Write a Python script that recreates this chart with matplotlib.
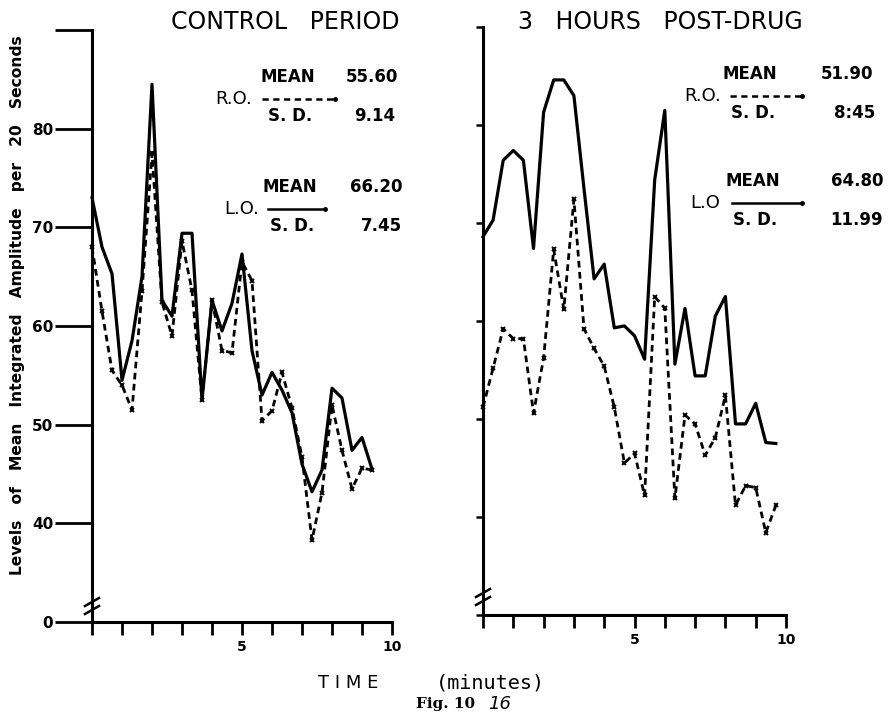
# Fig. 16 - EEG integrated amplitude, control vs 3 hours post-drug
from matplotlib import pyplot as plt
from matplotlib.lines import Line2D
import numpy as np

# values per 20 second epoch
ctrl_LO = [73, 68, 65.3, 54.5, 58.5, 65, 84.5, 62.6, 61, 69.4,
           69.4, 52.5, 62.6, 59.5, 62.3, 67.3, 57.5, 53, 55.3, 53.5,
           51.2, 46, 43.2, 45.4, 53.7, 52.7, 47.4, 48.7, 45.5]
ctrl_RO = [68, 61.5, 55.5, 54, 51.5, 63.5, 77.5, 62.4, 59, 68.6,
           63.6, 52.5, 62.6, 57.5, 57.3, 66.5, 64.6, 50.4, 51.4, 55.3,
           51.7, 46.7, 38.3, 43.1, 52, 47.4, 43.5, 45.6, 45.4]
post_LO = [68.6, 70.3, 76.4, 77.4, 76.4, 67.4, 81.3, 84.6, 84.6, 83,
           73.5, 64.3, 65.8, 59.3, 59.5, 58.5, 56.1, 74.4, 81.5, 55.6,
           61.3, 54.4, 54.4, 60.5, 62.5, 49.5, 49.5, 51.6, 47.6, 47.5]
post_RO = [51.2, 55.2, 59.2, 58.2, 58.2, 50.6, 56.2, 67.3, 61.2, 72.4,
           59.2, 57.2, 55.4, 51.2, 45.5, 46.5, 42.2, 62.5, 61.3, 41.9,
           50.4, 49.5, 46.3, 48.1, 52.4, 41.2, 43.2, 43, 38.4, 41.2]

ctrl_t = np.arange(len(ctrl_LO)) * 20 / 60.0
post_t = np.arange(len(post_LO)) * 20 / 60.0

y_ticks = [30, 40, 50, 60, 70, 80, 90]
y_labels = ['0', '40', '50', '60', '70', '80', '']
x_ticks = list(range(11))
x_labels = ['', '', '', '', '', '5', '', '', '', '', '10']

W, H = 888, 719
fig = plt.figure(figsize=(W / 100, H / 100), dpi=100)
fig.patch.set_facecolor('white')

def px(x, y):
    return x / W, 1 - y / H

lw = 2.3
dash = (2.4, 1.6)

# control period
ax1 = fig.add_axes([92 / W, 1 - 622 / H, 300 / W, 592 / H])
ax1.plot(ctrl_t, ctrl_LO, color='black', lw=lw, clip_on=False)
ax1.plot(ctrl_t, ctrl_RO, color='black', lw=lw - 0.3, dashes=dash,
         marker='x', ms=3.5, mew=1.4, clip_on=False)
ax1.set_yticks(y_ticks)
ax1.set_yticklabels(y_labels, fontsize=11, fontweight='bold')
ax1.tick_params(axis='y', length=27, width=2, pad=1)

# 3 hours post-drug
ax2 = fig.add_axes([483 / W, 1 - 615 / H, 303 / W, 588 / H])
ax2.plot(post_t, post_LO, color='black', lw=lw, clip_on=False)
ax2.plot(post_t, post_RO, color='black', lw=lw - 0.3, dashes=dash,
         marker='x', ms=3.5, mew=1.4, clip_on=False)
ax2.set_yticks(y_ticks)
ax2.set_yticklabels([])
ax2.tick_params(axis='y', length=5, width=1.8)

for ax in [ax1, ax2]:
    ax.set_xlim(0, 10)
    ax.set_ylim(30, 90)
    ax.set_facecolor('none')
    ax.spines['top'].set_visible(False)
    ax.spines['right'].set_visible(False)
    ax.spines['left'].set_linewidth(2.2)
    ax.spines['bottom'].set_linewidth(2.2)
    ax.set_xticks(x_ticks)
    ax.set_xticklabels(x_labels, fontsize=10, fontweight='bold')
    ax.tick_params(axis='x', length=9, width=2, pad=4)

# axis breaks
for bx, by in [(92, 606), (483, 597)]:
    for dy in [-4, 4]:
        x0, y0 = px(bx - 7, by + dy + 4)
        x1, y1 = px(bx + 7, by + dy - 4)
        fig.add_artist(Line2D([x0, x1], [y0, y1], color='black', lw=1.8))

# titles
fig.text(*px(285, 22), 'CONTROL   PERIOD', fontsize=17, ha='center', va='center')
fig.text(*px(660, 22), '3   HOURS   POST-DRUG', fontsize=17, ha='center', va='center')

fig.text(*px(18, 305), 'Levels   of   Mean   Integrated   Amplitude   per   20   Seconds',
         rotation=90, fontsize=11.2, fontweight='bold', ha='center', va='center')

# mean / s.d. keys
def key(x_lab, y_mid, lab, x0, x1, mean_x, mean_r, mean_val, sd_r, sd_val, dashed):
    kw = dict(fontsize=12, fontweight='bold', va='center')
    fig.text(*px(x_lab, y_mid), lab, fontsize=13, va='center')
    fig.text(*px(mean_x, y_mid - 22), 'MEAN', **kw)
    fig.text(*px(mean_x + 8, y_mid + 17), 'S. D.', **kw)
    fig.text(*px(mean_r, y_mid - 22), mean_val, ha='right', **kw)
    fig.text(*px(sd_r, y_mid + 17), sd_val, ha='right', **kw)
    a, b = px(x0, y_mid), px(x1, y_mid)
    ln = Line2D([a[0], b[0]], [a[1], b[1]], color='black', lw=1.8)
    if dashed:
        ln.set_dashes((2.5, 1.8))
    fig.add_artist(ln)
    fig.add_artist(Line2D([b[0]], [b[1]], marker='o', ms=2.5, color='black'))

key(215, 99, 'R.O.', 262, 335, 260, 398, '55.60', 395, '9.14', True)
key(224, 209, 'L.O.', 268, 325, 262, 402, '66.20', 402, '7.45', False)
key(684, 96, 'R.O.', 730, 802, 723, 873, '51.90', 875, '8:45', True)
key(690, 203, 'L.O', 732, 802, 725, 883, '64.80', 883, '11.99', False)

# bottom texts
fig.text(*px(348, 683), 'T I M E', fontsize=13, ha='center', va='center')
fig.text(*px(490, 683), '(minutes)', fontsize=14.5, ha='center', va='center',
         family='DejaVu Sans Mono')
fig.text(*px(446, 704), 'Fig. 10', fontsize=11, fontweight='bold', ha='center',
         va='center', family='DejaVu Serif')
fig.text(*px(500, 704), '16', fontsize=13, style='italic', ha='center', va='center')

plt.savefig('out.png', dpi=100)
